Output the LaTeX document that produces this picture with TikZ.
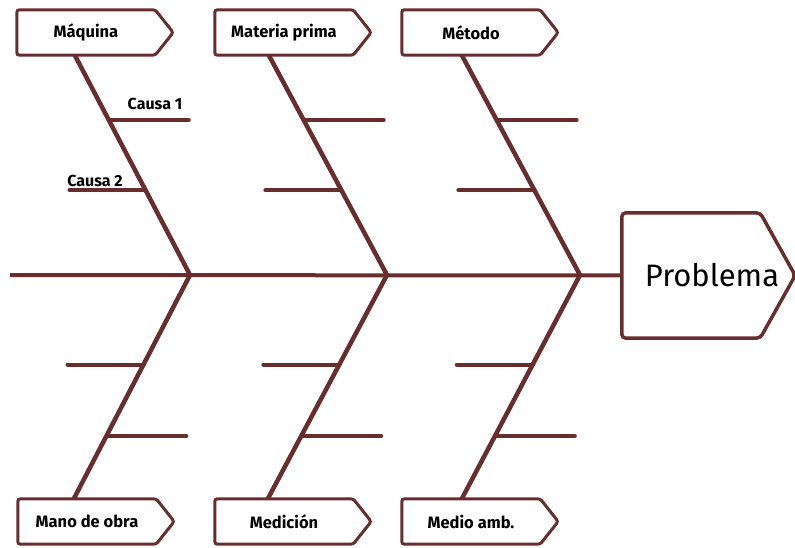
\documentclass[tikz,border=0pt]{standalone}
\usepackage{fontspec}
\setmainfont{Fira Sans}
\usetikzlibrary{calc}
\definecolor{bonecol}{RGB}{104,46,46}
\pgfdeclarelayer{background}
\pgfsetlayers{background,main}
\begin{document}
\begin{tikzpicture}[x=1pt,y=-1pt,
  catbox/.style={inner sep=0pt,minimum width=138pt,minimum height=45pt,
    font=\fontsize{16.5}{18}\selectfont\bfseries},
  outline/.style={draw=bonecol,line width=3pt,rounded corners=2.5pt,fill=white},
  bone/.style={draw=bonecol,line width=4.5pt},
  twig/.style={draw=bonecol,line width=4pt,line cap=round},
  spine/.style={draw=bonecol,line width=4pt},
  cause/.style={inner sep=0pt,font=\fontsize{16}{18}\selectfont\bfseries}]
\useasboundingbox (0,0) rectangle (795,548);

% category boxes (body only; the pointer is added to the outline)
\node[catbox] (maq) at (86,32.5)  {Máquina};
\node[catbox] (mat) at (284,32.5) {Materia prima};
\node[catbox] (met) at (471,32.5) {Método};
\node[catbox] (man) at (87,521.5)  {Mano de obra};
\node[catbox] (med) at (284,521.5) {Medición};
\node[catbox] (amb) at (471,521.5) {Medio amb.};

% problem head
\node[inner sep=0pt,minimum width=138pt,minimum height=125pt] (prob) at (691,275.5) {};
\node[inner sep=0pt,font=\fontsize{31}{34}\selectfont] (probtxt) at (712,275.5) {Problema};

% junctions on the spine
\coordinate (j1) at (190,275);
\coordinate (j2) at (387,275);
\coordinate (j3) at (580,275);
\coordinate (tail) at (10,275);

% main spine
\draw[spine] (tail) -- (prob.west);

% bones
\foreach \top/\j/\bot/\ta/\tb in {maq/j1/man/58/56, mat/j2/med/54/53, met/j3/amb/60/60}{
  \coordinate (\top-b) at ([xshift=\ta pt]\top.south west);
  \coordinate (\bot-b) at ([xshift=\tb pt]\bot.north west);
  \draw[bone] (\top-b) -- (\j) -- (\bot-b);
  % causes above the spine
  \coordinate (\top-c1) at ($(\top-b)!0.295!(\j)$);
  \coordinate (\top-c2) at ($(\top-b)!0.614!(\j)$);
  \draw[twig] (\top-c1) -- ++(80,0);
  \draw[twig] (\top-c2) -- ++(-76,0);
  % causes below the spine
  \coordinate (\bot-c1) at ($(\j)!0.40!(\bot-b)$);
  \coordinate (\bot-c2) at ($(\j)!0.72!(\bot-b)$);
  \draw[twig] (\bot-c1) -- ++(-76,0);
  \draw[twig] (\bot-c2) -- ++(80,0);
}

% box outlines with pointer, behind the labels
\begin{pgfonlayer}{background}
\foreach \b in {maq,mat,met,man,med,amb}{
  \draw[outline] (\b.north west) -- (\b.north east) -- ([xshift=18pt]\b.east)
    -- (\b.south east) -- (\b.south west) -- cycle;
}
\draw[outline,line width=3.5pt,rounded corners=4pt] (prob.north west) -- (prob.north east)
  -- ([xshift=35pt]prob.east) -- (prob.south east) -- (prob.south west) -- cycle;
\end{pgfonlayer}

% example cause labels
\node[cause] (c1) at (155,104) {Causa 1};
\node[cause] (c2) at (95,181) {Causa 2};
\end{tikzpicture}
\end{document}
